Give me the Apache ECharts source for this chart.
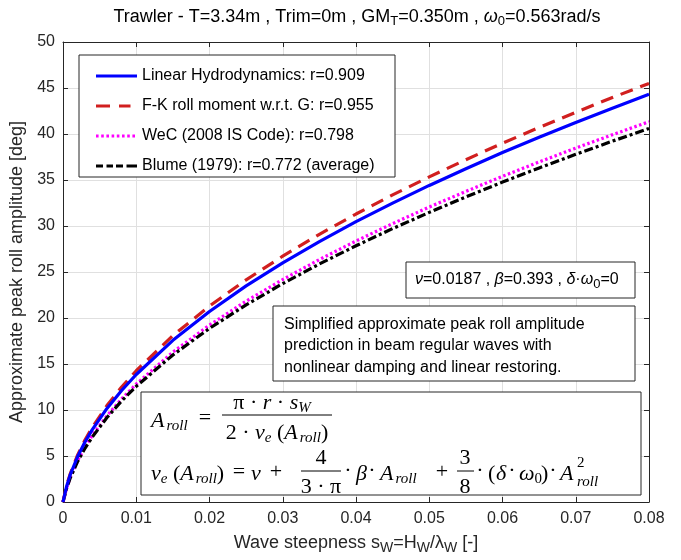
<!DOCTYPE html>
<html>
<head>
<meta charset="utf-8">
<script src="https://cdn.jsdelivr.net/npm/echarts@6/dist/echarts.min.js"></script>
<style>html,body{margin:0;padding:0;background:#fff;}#c{width:681px;height:560px;}</style>
</head>
<body>
<div id="c"></div>
<script>
// Wave steepness s_W
const steepness = [0, 0.0005, 0.001, 0.002, 0.003, 0.004, 0.006, 0.008, 0.01, 0.015, 0.02, 0.025, 0.03, 0.035, 0.04, 0.045, 0.05, 0.055, 0.06, 0.065, 0.07, 0.075, 0.08];
// Approximate peak roll amplitude [deg]
const linearHydro = [0, 1.72, 2.99, 4.94, 6.52, 7.87, 10.17, 12.12, 13.86, 17.57, 20.71, 23.49, 26.00, 28.31, 30.47, 32.49, 34.41, 36.23, 37.98, 39.65, 41.26, 42.81, 44.31];
const fkRoll = [0, 1.80, 3.10, 5.12, 6.73, 8.12, 10.48, 12.49, 14.27, 18.08, 21.30, 24.15, 26.72, 29.10, 31.30, 33.38, 35.34, 37.21, 39.00, 40.71, 42.36, 43.96, 45.50];
const weC = [0, 1.55, 2.70, 4.51, 5.97, 7.23, 9.37, 11.20, 12.82, 16.29, 19.23, 21.83, 24.18, 26.35, 28.37, 30.26, 32.06, 33.76, 35.40, 36.96, 38.47, 39.92, 41.33];
const blume = [0, 1.51, 2.64, 4.41, 5.84, 7.07, 9.18, 10.98, 12.57, 15.98, 18.87, 21.43, 23.74, 25.87, 27.85, 29.72, 31.48, 33.16, 34.77, 36.31, 37.79, 39.22, 40.60];
const seriesNames = ['Linear Hydrodynamics: r=0.909', 'F-K roll moment w.r.t. G: r=0.955', 'WeC (2008 IS Code): r=0.798', 'Blume (1979): r=0.772 (average)'];
const xTicks = {min: 0, max: 0.08, interval: 0.01};
const yTicks = {min: 0, max: 50, interval: 5};

const SANS = '"Liberation Sans", Arial, Helvetica, sans-serif';
const SERIF = '"Liberation Serif", "Times New Roman", serif';
const AX = '#262626';

function pairs(ys) { return steepness.map((x, i) => [x, ys[i]]); }

// legend glyphs (41 x 14 box, corner dots fix the bounding box)
const BB = 'M0,0h0.01v0.01h-0.01zM40.99,13.99h0.01v0.01h-0.01z';
function segs(list) { return 'path://' + BB + list.map(s => 'M' + s[0] + ',5.5h' + (s[1] - s[0]) + 'v3h-' + (s[1] - s[0]) + 'z').join(''); }
const dots = []; for (let x = 0; x < 41; x += 5.2) dots.push([x, Math.min(x + 2.6, 41)]);
const legendIcons = [
  segs([[0, 41]]),
  segs([[0, 14], [23, 34.5]]),
  segs(dots),
  segs([[0, 7], [10.5, 17], [20, 27], [30.5, 41]])
];

const chart = echarts.init(document.getElementById('c'), null, {renderer: 'canvas'});

const mathRich = {
  i: {fontFamily: SERIF, fontStyle: 'italic', fontSize: 22, lineHeight: 26, color: '#000'},
  n: {fontFamily: SERIF, fontSize: 22, lineHeight: 26, color: '#000'},
  s: {fontFamily: SERIF, fontStyle: 'italic', fontSize: 15, lineHeight: 15, verticalAlign: 'bottom', color: '#000'},
  sr: {fontFamily: SERIF, fontStyle: 'italic', fontSize: 15, lineHeight: 15, verticalAlign: 'bottom', padding: [0, 0, 0, 2], color: '#000'},
  sn: {fontFamily: SERIF, fontSize: 15, lineHeight: 15, verticalAlign: 'bottom', color: '#000'}
};
function mtext(x, y, text, align) {
  return {type: 'text', z: 10, style: {x: x, y: y, text: text, rich: mathRich, textAlign: align || 'left', textVerticalAlign: 'middle', fill: '#000'}};
}
function hline(x1, x2, y) {
  return {type: 'line', z: 10, shape: {x1: x1, y1: y, x2: x2, y2: y}, style: {stroke: '#000', lineWidth: 1}};
}
function box(x, y, w, h) {
  return {type: 'rect', z: 3, shape: {x: x, y: y, width: w, height: h}, style: {fill: '#fff', stroke: AX, lineWidth: 1}};
}

const textRich = {
  n: {fontFamily: SANS, fontSize: 16, lineHeight: 22, color: '#000'},
  g: {fontFamily: SANS, fontStyle: 'italic', fontSize: 16, lineHeight: 22, color: '#000'},
  sub: {fontFamily: SANS, fontSize: 13, lineHeight: 13, verticalAlign: 'bottom', color: '#000'}
};

const option = {
  animation: false,
  backgroundColor: '#fff',
  grid: {left: 63, right: 32, top: 42, bottom: 57, containLabel: false},
  legend: {
    show: true, orient: 'vertical', left: 96, top: 68, padding: 0,
    itemWidth: 41, itemHeight: 14, itemGap: 14, z: 6,
    data: seriesNames.map((n, i) => ({name: n, icon: legendIcons[i]})),
    textStyle: {fontFamily: SANS, fontSize: 16, lineHeight: 15, color: '#000'}
  },
  xAxis: [{
    type: 'value', min: xTicks.min, max: xTicks.max, interval: xTicks.interval,
    name: '{n|Wave steepness s}{sub|W}{n|=H}{sub|W}{n|/λ}{sub|W}{n| [-]}',
    nameLocation: 'middle', nameGap: 29,
    nameTextStyle: {rich: {
      n: {fontFamily: SANS, fontSize: 18, lineHeight: 24, color: AX},
      sub: {fontFamily: SANS, fontSize: 14, lineHeight: 14, verticalAlign: 'bottom', color: AX}
    }},
    axisLine: {show: true, onZero: false, lineStyle: {color: AX, width: 1}},
    axisTick: {show: true, inside: true, length: 5, lineStyle: {color: AX}},
    axisLabel: {fontFamily: SANS, fontSize: 16, color: AX, margin: 9},
    splitLine: {show: true, lineStyle: {color: '#e0e0e0', width: 1}}
  }, {
    type: 'value', position: 'top', min: xTicks.min, max: xTicks.max, interval: xTicks.interval,
    axisLine: {show: true, onZero: false, lineStyle: {color: AX, width: 1}},
    axisTick: {show: true, inside: true, length: 5, lineStyle: {color: AX}},
    axisLabel: {show: false}, splitLine: {show: false}
  }],
  yAxis: [{
    type: 'value', min: yTicks.min, max: yTicks.max, interval: yTicks.interval,
    name: 'Approximate peak roll amplitude [deg]', nameLocation: 'middle', nameGap: 36,
    nameTextStyle: {fontFamily: SANS, fontSize: 18, color: AX},
    axisLine: {show: true, onZero: false, lineStyle: {color: AX, width: 1}},
    axisTick: {show: true, inside: true, length: 5, lineStyle: {color: AX}},
    axisLabel: {fontFamily: SANS, fontSize: 16, color: AX, margin: 8},
    splitLine: {show: true, lineStyle: {color: '#e0e0e0', width: 1}}
  }, {
    type: 'value', position: 'right', min: yTicks.min, max: yTicks.max, interval: yTicks.interval,
    axisLine: {show: true, onZero: false, lineStyle: {color: AX, width: 1}},
    axisTick: {show: true, inside: true, length: 5, lineStyle: {color: AX}},
    axisLabel: {show: false}, splitLine: {show: false}
  }],
  series: [
    {name: seriesNames[0], type: 'line', data: pairs(linearHydro), symbol: 'none', smooth: false, z: 5,
     lineStyle: {color: '#0000ff', width: 3.2, type: 'solid'}, itemStyle: {color: '#0000ff'}},
    {name: seriesNames[1], type: 'line', data: pairs(fkRoll), symbol: 'none', smooth: false, z: 4,
     lineStyle: {color: '#d11f1f', width: 3.2, type: [13, 8], cap: 'butt'}, itemStyle: {color: '#d11f1f'}},
    {name: seriesNames[2], type: 'line', data: pairs(weC), symbol: 'none', smooth: false, z: 3,
     lineStyle: {color: '#ff00ff', width: 3.2, type: [2.5, 2.5], cap: 'butt'}, itemStyle: {color: '#ff00ff'}},
    {name: seriesNames[3], type: 'line', data: pairs(blume), symbol: 'none', smooth: false, z: 3,
     lineStyle: {color: '#000000', width: 3.2, type: [9, 3, 3, 3], cap: 'butt'}, itemStyle: {color: '#000000'}}
  ],
  graphic: [
    // title
    {type: 'text', z: 10, style: {x: 357, y: 17, textAlign: 'center', textVerticalAlign: 'middle',
      text: '{n|Trawler - T=3.34m , Trim=0m , GM}{sub|T}{n|=0.350m , }{g|ω}{sub|0}{n|=0.563rad/s}',
      rich: {
        n: {fontFamily: SANS, fontSize: 18, lineHeight: 22, color: AX},
        g: {fontFamily: SANS, fontStyle: 'italic', fontSize: 18, lineHeight: 22, color: AX},
        sub: {fontFamily: SANS, fontSize: 13, lineHeight: 13, verticalAlign: 'bottom', color: AX}
      }}},
    // legend frame
    box(79, 55, 316, 122),
    // parameters box
    box(406, 262, 229, 36),
    {type: 'text', z: 10, style: {x: 415, y: 280, textAlign: 'left', textVerticalAlign: 'middle',
      text: '{g|ν}{n|=0.0187 , }{g|β}{n|=0.393 , }{g|δ}{n|·}{g|ω}{sub|0}{n|=0}', rich: textRich}},
    // description box
    box(273, 306, 362, 75),
    {type: 'text', z: 10, style: {x: 284, y: 346, textAlign: 'left', textVerticalAlign: 'middle',
      text: 'Simplified approximate peak roll amplitude\nprediction in beam regular waves with\nnonlinear damping and linear restoring.',
      font: '16px ' + SANS, lineHeight: 21.5, fill: '#000'}},
    // formula box
    box(141, 392, 500, 103),
    // row 1
    mtext(151, 421, '{i|A}{sr|roll}'),
    mtext(205, 418, '{n|=}', 'center'),
    mtext(272, 403, '{n|π · }{i|r}{n| · }{i|s}{s|W}', 'center'),
    hline(222, 332, 415),
    mtext(277, 433, '{n|2 · }{i|ν}{s|e}{n| (}{i|A}{sr|roll}{n|)}', 'center'),
    // row 2
    mtext(151, 474, '{i|ν}{s|e}{n| (}{i|A}{sr|roll}{n|)}'),
    mtext(239, 472, '{n|=}', 'center'),
    mtext(251, 474, '{i|ν}'),
    mtext(276, 472, '{n|+}', 'center'),
    mtext(321, 458, '{n|4}', 'center'),
    hline(301, 341, 471),
    mtext(321, 487, '{n|3 · π}', 'center'),
    mtext(348, 471, '{n|·}', 'center'),
    mtext(356, 474, '{i|β}'),
    mtext(372, 471, '{n|·}', 'center'),
    mtext(380, 474, '{i|A}{sr|roll}'),
    mtext(442, 472, '{n|+}', 'center'),
    mtext(465, 458, '{n|3}', 'center'),
    hline(457, 474, 471),
    mtext(465, 487, '{n|8}', 'center'),
    mtext(480, 471, '{n|·}', 'center'),
    mtext(488, 474, '{n|(}'),
    mtext(496, 474, '{i|δ}'),
    mtext(512, 471, '{n|·}', 'center'),
    mtext(519, 474, '{i|ω}{sn|0}'),
    mtext(541, 474, '{n|)}'),
    mtext(553, 471, '{n|·}', 'center'),
    mtext(560, 474, '{i|A}'),
    {type: 'text', z: 10, style: {x: 577, y: 463, text: '2', font: '15px ' + SERIF, textAlign: 'left', textVerticalAlign: 'middle', fill: '#000'}},
    {type: 'text', z: 10, style: {x: 577, y: 482, text: 'roll', font: 'italic 15px ' + SERIF, textAlign: 'left', textVerticalAlign: 'middle', fill: '#000'}}
  ]
};
chart.setOption(option);
</script>
</body>
</html>
